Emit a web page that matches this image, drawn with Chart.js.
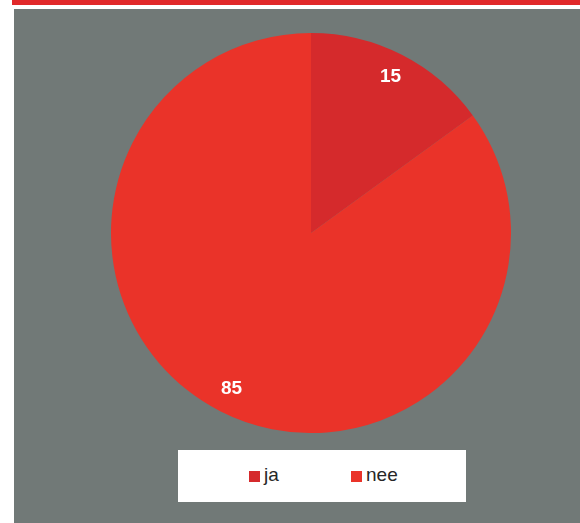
<!DOCTYPE html>
<html>
<head>
<meta charset="utf-8">
<script src="https://cdn.jsdelivr.net/npm/chart.js@4"></script>
<style>
  html, body { margin: 0; padding: 0; background: #fff; }
  body { width: 580px; height: 523px; position: relative; overflow: hidden; font-family: Arial, "Liberation Sans", sans-serif; }
  #topbar { position: absolute; left: 12px; top: 0; width: 568px; height: 5px; background: #e1292a; }
  #panel { position: absolute; left: 14px; top: 9px; width: 566px; height: 514px; background: #717977; }
  #pieBox { position: absolute; left: 97px; top: 24px; width: 400px; height: 400px; }
  #legend {
    position: absolute; left: 164px; top: 441px; width: 288px; height: 52px;
    background: #fff; display: flex; align-items: center;
  }
  .item { position: absolute; top: 14px; display: flex; align-items: center; font-size: 19px; color: #262626; }
  .swatch { width: 11px; height: 11px; margin-right: 4px; margin-top: 2px; }
</style>
</head>
<body>
<div id="topbar"></div>
<div id="panel">
  <div id="pieBox"><canvas id="pie" width="400" height="400"></canvas></div>
  <div id="legend"></div>
</div>

<script>
/* ---------- data ---------- */
const labels = ["ja", "nee"];
const values = [15, 85];
const colors = ["#d52a2c", "#ea3329"];
const legendX = [71, 173];   // left offset of each legend entry inside the white box

/* ---------- value labels inside slices ---------- */
const sliceLabels = {
  id: "sliceLabels",
  afterDatasetsDraw(chart) {
    const ctx = chart.ctx;
    const meta = chart.getDatasetMeta(0);
    ctx.save();
    ctx.fillStyle = "#ffffff";
    ctx.font = "bold 19px Arial, 'Liberation Sans', sans-serif";
    ctx.textAlign = "center";
    ctx.textBaseline = "middle";
    meta.data.forEach((arc, i) => {
      const p = arc.getProps(["x", "y", "startAngle", "endAngle", "outerRadius"], true);
      const mid = (p.startAngle + p.endAngle) / 2;
      const r = p.outerRadius * 0.875;
      ctx.fillText(String(values[i]), p.x + Math.cos(mid) * r, p.y + Math.sin(mid) * r);
    });
    ctx.restore();
  }
};

new Chart(document.getElementById("pie"), {
  type: "pie",
  data: {
    labels,
    datasets: [{
      data: values,
      backgroundColor: colors,
      borderWidth: 0
    }]
  },
  options: {
    responsive: false,
    animation: false,
    layout: { padding: 0 },
    plugins: {
      legend: { display: false },
      tooltip: { enabled: false }
    }
  },
  plugins: [sliceLabels]
});

/* ---------- legend ---------- */
const legend = document.getElementById("legend");
labels.forEach((name, i) => {
  const item = document.createElement("div");
  item.className = "item";
  item.style.left = legendX[i] + "px";
  item.innerHTML = `<span class="swatch" style="background:${colors[i]}"></span><span>${name}</span>`;
  legend.appendChild(item);
});
</script>
</body>
</html>
